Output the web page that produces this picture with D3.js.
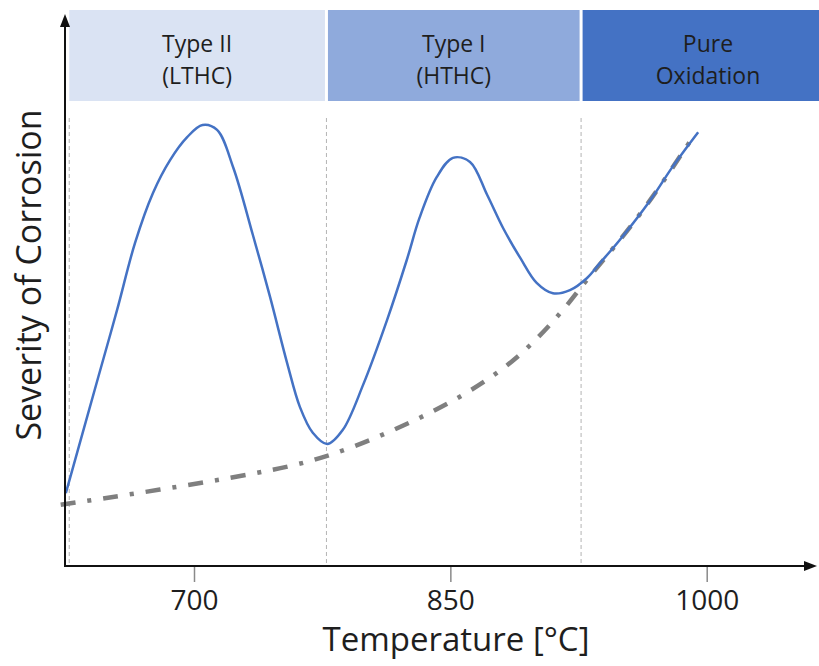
<!DOCTYPE html>
<html>
<head>
<meta charset="utf-8">
<script src="https://d3js.org/d3.v7.min.js"></script>
<style>
  body { margin: 0; background: #fff; }
  text { font-family: "Open Sans", sans-serif; fill: #1e1e1e; }
</style>
</head>
<body>
<script>
  // corrosion curve (temperature in degC, severity in arbitrary units)
  var temps = [625, 644, 655, 665.5, 676, 686, 696, 705, 713.5, 723, 734.5, 744.5, 754.5, 762, 769.5, 778,
               787, 799, 813, 824.5, 832, 842, 851.5, 861.5, 871.5, 881, 891, 900.5, 910, 920, 930, 937.5,
               949, 967, 980, 995];
  var severity = [16.2, 42, 56.9, 71.8, 82.9, 90.2, 95.3, 98, 96.9, 88.5, 73.5, 59.8, 45.1, 35.3, 29.6, 27.1,
                  30.2, 40.3, 54.7, 68, 77.4, 86.4, 90.7, 89.8, 82.5, 75, 68.4, 62.9, 60.6, 61.3, 64, 67.3,
                  72.4, 81.3, 88.7, 96.4];

  // pure oxidation baseline
  var baseTemps = [622, 680, 738.5, 774, 813, 851.5, 881, 900.5, 920, 927.5, 949, 967, 990];
  var baseSeverity = [13.6, 16.9, 20.7, 23.6, 29.4, 36.4, 43.6, 50.2, 58.6, 62.6, 72.2, 81.1, 94.2];

  var regionBounds = [627, 777.5, 926.5, 1075];
  var regionLabels = [["Type II", "(LTHC)"], ["Type I", "(HTHC)"], ["Pure", "Oxidation"]];
  var regionColors = ["#dae3f3", "#8faadc", "#4472c4"];
  var tickTemps = [700, 850, 1000];

  var W = 819, H = 666;
  var originX = 65, originY = 566;

  var svg = d3.select("body").append("svg")
    .attr("width", W)
    .attr("height", H);

  var x = d3.scaleLinear().domain([700, 1000]).range([194, 706.7]);
  var y = d3.scaleLinear().domain([0, 100]).range([originY, 116]);

  // header bands
  var bands = svg.append("g");
  regionLabels.forEach(function (lab, i) {
    var x0 = x(regionBounds[i]) + (i === 0 ? 0 : 1.5);
    var x1 = x(regionBounds[i + 1]) - 1.5;
    bands.append("rect")
      .attr("x", x0).attr("y", 10)
      .attr("width", x1 - x0).attr("height", 91)
      .attr("fill", regionColors[i]);
    var t = bands.append("text")
      .attr("x", (x0 + x1) / 2)
      .attr("text-anchor", "middle")
      .style("font-size", "23px");
    t.append("tspan").attr("x", (x0 + x1) / 2).attr("y", 52).text(lab[0]);
    t.append("tspan").attr("x", (x0 + x1) / 2).attr("y", 84).text(lab[1]);
  });

  // region dividers
  svg.selectAll(".divider")
    .data(regionBounds.slice(0, 3))
    .enter().append("line")
    .attr("class", "divider")
    .attr("x1", function (d) { return x(d); })
    .attr("x2", function (d) { return x(d); })
    .attr("y1", 118).attr("y2", originY)
    .attr("stroke", "#b4b4b4")
    .attr("stroke-width", 1)
    .attr("stroke-dasharray", "4,3");

  // baseline (dash-dot)
  var base = baseTemps.map(function (t, i) { return [t, baseSeverity[i]]; });
  svg.append("path")
    .datum(base)
    .attr("fill", "none")
    .attr("stroke", "#7f7f7f")
    .attr("stroke-width", 4.5)
    .attr("stroke-dasharray", "15,12,4,12")
    .attr("d", d3.line()
      .x(function (d) { return x(d[0]); })
      .y(function (d) { return y(d[1]); })
      .curve(d3.curveBasis));

  // corrosion curve
  var pts = temps.map(function (t, i) { return [t, severity[i]]; });
  svg.append("path")
    .datum(pts)
    .attr("fill", "none")
    .attr("stroke", "#4472c4")
    .attr("stroke-width", 2.5)
    .attr("d", d3.line()
      .x(function (d) { return x(d[0]); })
      .y(function (d) { return y(d[1]); })
      .curve(d3.curveCatmullRom.alpha(0.5)));

  // x ticks
  var xAxis = svg.append("g")
    .attr("transform", "translate(0," + originY + ")")
    .call(d3.axisBottom(x).tickValues(tickTemps).tickSize(16).tickPadding(8).tickFormat(d3.format("d")));
  xAxis.select(".domain").remove();
  xAxis.selectAll(".tick line").attr("stroke", "#8a8a8a").attr("stroke-width", 1.5);
  xAxis.selectAll(".tick text")
    .style("font-size", "28px")
    .style("font-family", "'Open Sans', sans-serif")
    .attr("fill", "#1e1e1e");

  // axis lines with arrows
  svg.append("line")
    .attr("x1", originX).attr("y1", originY + 1)
    .attr("x2", originX).attr("y2", 24)
    .attr("stroke", "#111").attr("stroke-width", 2);
  svg.append("path")
    .attr("d", "M" + originX + ",14 L" + (originX - 5) + ",27 L" + (originX + 5) + ",27 Z")
    .attr("fill", "#111");
  svg.append("line")
    .attr("x1", originX - 1).attr("y1", originY)
    .attr("x2", 806).attr("y2", originY)
    .attr("stroke", "#111").attr("stroke-width", 2);
  svg.append("path")
    .attr("d", "M817," + originY + " L804," + (originY - 5) + " L804," + (originY + 5) + " Z")
    .attr("fill", "#111");

  // axis titles
  svg.append("text")
    .attr("x", 456).attr("y", 651)
    .attr("text-anchor", "middle")
    .style("font-size", "33px")
    .text("Temperature [°C]");

  svg.append("text")
    .attr("transform", "translate(41,275) rotate(-90)")
    .attr("text-anchor", "middle")
    .style("font-size", "34px")
    .text("Severity of Corrosion");
</script>
</body>
</html>
